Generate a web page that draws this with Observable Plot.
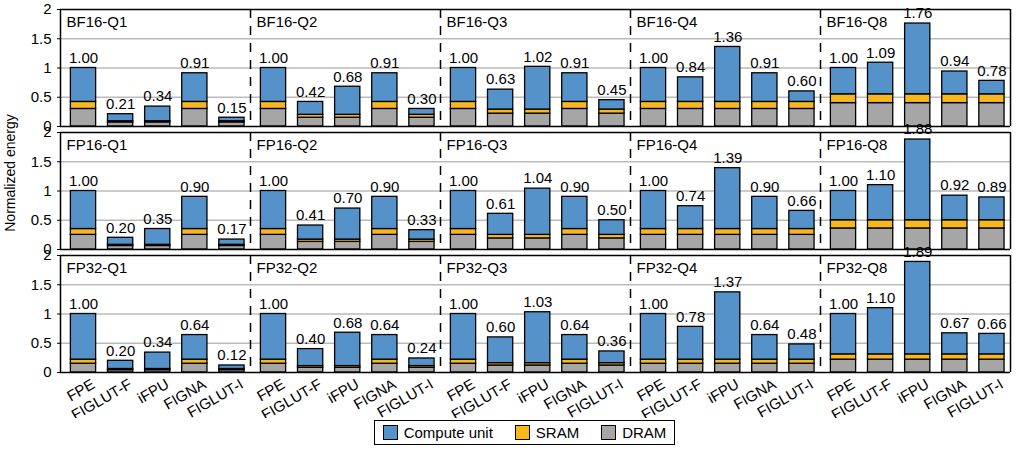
<!DOCTYPE html>
<html><head><meta charset="utf-8">
<script src="https://cdn.jsdelivr.net/npm/d3@7"></script>
<script src="https://cdn.jsdelivr.net/npm/@observablehq/plot@0.6"></script>
<style>
body{margin:0;background:#fff;font-family:"Liberation Sans",Arial,sans-serif;}
#wrap{position:relative;width:1019px;}
#ylab{position:absolute;left:-60px;top:165px;transform:rotate(-90deg);font-size:14px;width:140px;text-align:center;}
#legend{display:flex;justify-content:center;gap:0;margin-top:2px;margin-left:30px}
#legend .box{display:flex;border:1px solid #000;padding:3px 8px;gap:22px;font-size:15px}
#legend span{display:flex;align-items:center;gap:6px}
#legend i{display:inline-block;width:15px;height:15px;border:1.5px solid #000;box-sizing:border-box}
</style></head><body>
<div id="wrap"><div id="ylab">Normalized energy</div><div id="chart"></div>
<div id="legend"><div class="box"><span><i style="background:#5592c9"></i>Compute unit</span><span><i style="background:#f7b71d"></i>SRAM</span><span><i style="background:#a6a6a6"></i>DRAM</span></div></div></div>
<script>
const rows = ["BF16","FP16","FP32"];
const quants = ["Q1","Q2","Q3","Q4","Q8"];
const methods = ["FPE","FIGLUT-F","iFPU","FIGNA","FIGLUT-I"];
const totals = {
  BF16: {Q1:[1.00,0.21,0.34,0.91,0.15], Q2:[1.00,0.42,0.68,0.91,0.30], Q3:[1.00,0.63,1.02,0.91,0.45], Q4:[1.00,0.84,1.36,0.91,0.60], Q8:[1.00,1.09,1.76,0.94,0.78]},
  FP16: {Q1:[1.00,0.20,0.35,0.90,0.17], Q2:[1.00,0.41,0.70,0.90,0.33], Q3:[1.00,0.61,1.04,0.90,0.50], Q4:[1.00,0.74,1.39,0.90,0.66], Q8:[1.00,1.10,1.88,0.92,0.89]},
  FP32: {Q1:[1.00,0.20,0.34,0.64,0.12], Q2:[1.00,0.40,0.68,0.64,0.24], Q3:[1.00,0.60,1.03,0.64,0.36], Q4:[1.00,0.78,1.37,0.64,0.48], Q8:[1.00,1.10,1.89,0.67,0.66]}
};
const dram = {
  BF16: {Q1:[0.30,0.07,0.07,0.30,0.07], Q2:[0.30,0.15,0.15,0.30,0.15], Q3:[0.30,0.22,0.22,0.30,0.22], Q4:[0.30,0.30,0.30,0.30,0.30], Q8:[0.40,0.40,0.40,0.40,0.40]},
  FP16: {Q1:[0.25,0.06,0.06,0.25,0.06], Q2:[0.25,0.13,0.13,0.25,0.13], Q3:[0.25,0.19,0.19,0.25,0.19], Q4:[0.25,0.25,0.25,0.25,0.25], Q8:[0.36,0.36,0.36,0.36,0.36]},
  FP32: {Q1:[0.15,0.04,0.04,0.15,0.04], Q2:[0.15,0.08,0.08,0.15,0.08], Q3:[0.15,0.12,0.12,0.15,0.12], Q4:[0.15,0.15,0.15,0.15,0.15], Q8:[0.22,0.22,0.22,0.22,0.22]}
};
const sram = {
  BF16: {Q1:[0.12,0.02,0.02,0.12,0.02], Q2:[0.12,0.05,0.05,0.12,0.05], Q3:[0.12,0.07,0.07,0.12,0.07], Q4:[0.12,0.12,0.12,0.12,0.12], Q8:[0.15,0.15,0.15,0.15,0.15]},
  FP16: {Q1:[0.10,0.02,0.02,0.10,0.02], Q2:[0.10,0.04,0.04,0.10,0.04], Q3:[0.10,0.06,0.06,0.10,0.06], Q4:[0.10,0.10,0.10,0.10,0.10], Q8:[0.14,0.14,0.14,0.14,0.14]},
  FP32: {Q1:[0.07,0.02,0.02,0.07,0.02], Q2:[0.07,0.03,0.03,0.07,0.03], Q3:[0.07,0.04,0.04,0.07,0.04], Q4:[0.07,0.07,0.07,0.07,0.07], Q8:[0.09,0.09,0.09,0.09,0.09]}
};
const colors = {DRAM:"#a6a6a6", SRAM:"#f7b71d", Compute:"#5592c9"};

const segs = [], bars = [], facets = [];
for (const r of rows) for (const q of quants) {
  facets.push({r, q, title: `${r}-${q}`});
  methods.forEach((m, i) => {
    const t = totals[r][q][i], d = dram[r][q][i], s = sram[r][q][i];
    bars.push({r, q, i, t});
    segs.push({r, q, i, y1: 0, y2: d, c: "DRAM"});
    segs.push({r, q, i, y1: d, y2: d + s, c: "SRAM"});
    segs.push({r, q, i, y1: d + s, y2: t, c: "Compute"});
  });
}
const hw = 0.34;
const chart = Plot.plot({
  width: 1019, height: 418,
  marginLeft: 60, marginRight: 9, marginTop: 8, marginBottom: 46,
  style: {fontFamily: "Liberation Sans, Arial, sans-serif", fontSize: "14px", color: "#000"},
  fx: {domain: quants, padding: 0, axis: null},
  fy: {domain: rows, padding: 0.05, axis: null},
  x: {domain: [-0.62, 4.5]},
  y: {domain: [0, 2]},
  marks: [
    Plot.ruleY([0.5, 1, 1.5], {stroke: "#bbb", strokeWidth: 1.5}),
    Plot.rect(segs, {fx: "q", fy: "r", x1: d => d.i - hw, x2: d => d.i + hw, y1: "y1", y2: "y2",
      fill: d => colors[d.c], stroke: "#000", strokeWidth: 1.3}),
    Plot.text(bars, {fx: "q", fy: "r", x: "i", y: "t", text: d => d.t.toFixed(2), dy: -10, fontSize: 15}),
    Plot.text(facets, {fx: "q", fy: "r", text: "title", frameAnchor: "top-left", dx: 6, dy: 7, fontSize: 15}),
    Plot.ruleY([0, 2], {stroke: "#000", strokeWidth: 1.5}),
    Plot.ruleX(facets.filter(f => f.q !== "Q1"), {fx: "q", fy: "r", x: () => -0.62, stroke: "#000", strokeWidth: 1.5, strokeDasharray: "9,8"}),
    Plot.ruleX(facets.filter(f => f.q === "Q1"), {fx: "q", fy: "r", x: () => -0.62, stroke: "#000", strokeWidth: 1.5}),
    Plot.ruleX(facets.filter(f => f.q === "Q8"), {fx: "q", fy: "r", x: () => 4.5, stroke: "#000", strokeWidth: 1.5}),
    Plot.axisY({ticks: [0, 0.5, 1, 1.5, 2], tickFormat: d => String(d), tickSize: 3, fontSize: 15, label: null}),
    Plot.axisX({ticks: [0, 1, 2, 3, 4], tickFormat: i => methods[i], tickSize: 0, tickRotate: -30, textAnchor: "end", dy: -2, dx: 10, fontSize: 15, label: null})
  ]
});
document.getElementById("chart").append(chart);
</script></body></html>
